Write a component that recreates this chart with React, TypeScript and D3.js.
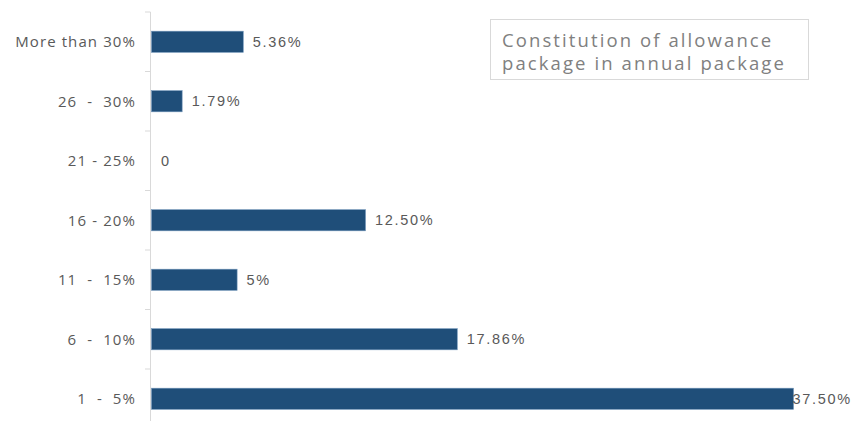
import React from "react";
import * as d3 from "d3";

const categories = ["More than 30%", "26  -  30%", "21 - 25%", "16 - 20%", "11  -  15%", "6  -  10%", "1  -  5%"];
const values = [5.36, 1.79, 0, 12.5, 5, 17.86, 37.5];
const valueLabels = ["5.36%", "1.79%", "0", "12.50%", "5%", "17.86%", "37.50%"];
const titleLines = ["Constitution of allowance", "package in annual package"];

const W = 852;
const H = 421;

export default function App() {
  const x = d3.scaleLinear().domain([0, 37.5]).range([151, 793]);
  const y = d3.scaleBand<string>().domain(categories).range([12, 428.5]).paddingInner(0.645).paddingOuter(0.3225);
  const step = y.step();
  const ticks = d3.range(categories.length + 1).map((i) => 12 + i * step);
  const catFont = "'Open Sans', 'Lato', sans-serif";
  const valFont = "'Liberation Sans', Arial, sans-serif";
  return (
    <svg width={W} height={H} style={{ position: "absolute", left: 0, top: 0 }}>
      <rect x={0} y={0} width={W} height={H} fill="#ffffff" />
      <line x1={150.5} x2={150.5} y1={12} y2={H} stroke="#d9d9d9" strokeWidth={1} />
      {ticks.map((t, i) => (
        <line key={i} x1={145} x2={150.5} y1={t} y2={t} stroke="#d9d9d9" strokeWidth={1} />
      ))}
      {categories.map((c, i) => {
        const by = y(c)!;
        const bw = x(values[i]) - x(0);
        const cy = by + y.bandwidth() / 2;
        const lw = valueLabels[i].length * 9.6;
        let lx = x(values[i]) + 10;
        if (lx + lw > W - 2) lx = W - 2 - lw;
        return (
          <g key={c}>
            {bw > 0 && (
              <rect x={x(0) + 0.5} y={by} width={bw} height={y.bandwidth()} fill="#1f4e79" stroke="#6f93b8" strokeWidth={0.6} />
            )}
            <text x={136} y={cy} dy="0.35em" textAnchor="end" fontFamily={catFont} fontSize={15} letterSpacing={1.1} fill="#595959" style={{ whiteSpace: "pre" }}>
              {c}
            </text>
            <text x={lx} y={cy} dy="0.35em" fontFamily={valFont} fontSize={14.5} letterSpacing={1.7} fill="#595959">
              {valueLabels[i]}
            </text>
          </g>
        );
      })}
      <rect x={490.5} y={19.5} width={318} height={60} fill="#ffffff" stroke="#d9d9d9" strokeWidth={1} />
      {titleLines.map((l, i) => (
        <text key={i} x={502} y={47 + i * 22.5} fontFamily={catFont} fontSize={18.5} letterSpacing={2.1} fill="#808080">
          {l}
        </text>
      ))}
    </svg>
  );
}
